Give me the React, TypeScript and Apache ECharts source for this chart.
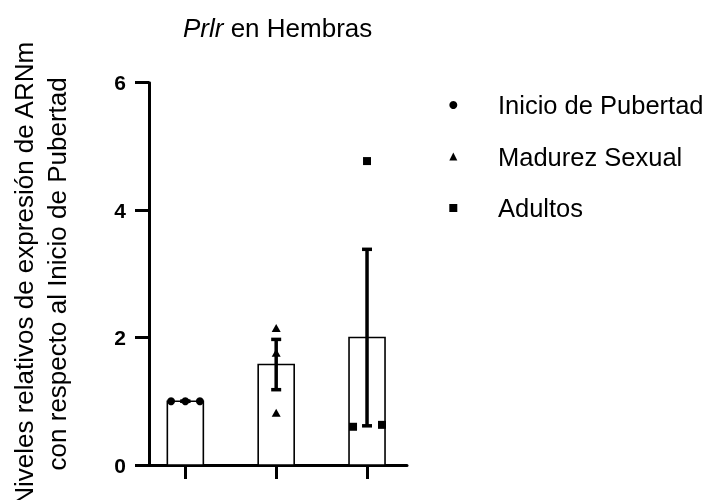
import React, { useEffect, useRef } from "react";
import * as echarts from "echarts";

const categories = ["Inicio de Pubertad", "Madurez Sexual", "Adultos"];
const categoryPositions = [1, 2, 3];
const inicioValues = [1.0, 1.0, 1.0];
const madurezValues = [2.15, 1.76, 0.82];
const adultosValues = [0.6, 4.77, 0.63];
const inicioOffsets = [-0.157, 0, 0.16];
const madurezOffsets = [0, 0, 0];
const adultosOffsets = [-0.154, 0, 0.165];
const yTicks = [0, 2, 4, 6];

const groups = [inicioValues, madurezValues, adultosValues];
const offsets = [inicioOffsets, madurezOffsets, adultosOffsets];

const mean = (a: number[]) => a.reduce((s, v) => s + v, 0) / a.length;
const sem = (a: number[]) => {
  const m = mean(a);
  const sd = Math.sqrt(a.reduce((s, v) => s + (v - m) * (v - m), 0) / (a.length - 1));
  return sd / Math.sqrt(a.length);
};

const FONT = "'Liberation Sans', Arial, Helvetica, sans-serif";

export default function App() {
  const ref = useRef<HTMLDivElement>(null);
  useEffect(() => {
    if (!ref.current) return;
    const chart = echarts.init(ref.current, undefined, { renderer: "svg" });
    const barData = categoryPositions.map((x, i) => [x, mean(groups[i])]);
    const errData = categoryPositions.map((x, i) => {
      const m = mean(groups[i]);
      const s = sem(groups[i]);
      return [x, m - s, m + s];
    });
    const scatterSymbols = ["circle", "triangle", "rect"];
    const scatterSizes: any[] = [8, [9, 8], 8];
    const legendIcons = ["circle", "path://M5,0L10,10L0,10Z", "path://M0,0L10,0L10,10L0,10Z"];
    chart.setOption({
      animation: false,
      title: {
        text: "{i|Prlr} en Hembras",
        left: 183,
        top: 13,
        padding: 0,
        textStyle: {
          fontSize: 26,
          fontWeight: "normal",
          color: "#000",
          fontFamily: FONT,
          lineHeight: 30,
          rich: {
            i: { fontStyle: "italic", fontSize: 26, fontFamily: FONT, color: "#000", lineHeight: 30 },
          },
        },
      },
      legend: {
        orient: "vertical",
        left: 449.3,
        top: 92,
        padding: 0,
        itemWidth: 8,
        itemHeight: 8,
        itemGap: 25.5,
        symbolKeepAspect: true,
        selectedMode: false,
        textStyle: { fontSize: 25.5, color: "#000", fontFamily: FONT, lineHeight: 26, padding: [0, 0, 0, 35.7] },
        data: categories.map((c, i) => ({ name: c, icon: legendIcons[i], itemStyle: { color: "#000", opacity: 1 } })),
      },
      grid: { left: 149, right: 300, top: 82.7, bottom: 35, containLabel: false, outerBoundsMode: "none" },
      xAxis: {
        type: "value",
        min: 0.6,
        max: 3.44,
        axisLine: { show: true, onZero: true, lineStyle: { color: "#000", width: 3 } },
        axisTick: { show: true, length: 14, lineStyle: { color: "#000", width: 3 }, customValues: categoryPositions },
        axisLabel: { show: false },
        splitLine: { show: false },
      },
      yAxis: {
        type: "value",
        min: yTicks[0],
        max: yTicks[yTicks.length - 1],
        interval: 2,
        name: "Niveles relativos de expresión de ARNm\ncon respecto al Inicio de Pubertad",
        nameLocation: "middle",
        nameGap: 75.5,
        nameTextStyle: { fontSize: 26, lineHeight: 33, color: "#000", fontFamily: FONT },
        axisLine: { show: true, lineStyle: { color: "#000", width: 3 } },
        axisTick: { show: true, length: 14, lineStyle: { color: "#000", width: 3 } },
        axisLabel: { show: true, margin: 23, fontSize: 21, fontWeight: "bold", color: "#000", fontFamily: FONT },
        splitLine: { show: false },
      },
      series: [
        {
          type: "custom",
          name: "bars",
          z: 1,
          clip: false,
          data: barData,
          renderItem: (params: any, api: any) => {
            const x = api.value(0);
            const v = api.value(1);
            const top = api.coord([x, v]);
            const base = api.coord([x, 0]);
            return {
              type: "rect",
              shape: { x: top[0] - 18, y: top[1], width: 36, height: base[1] - top[1] },
              style: { fill: "#fff", stroke: "#000", lineWidth: 1.6 },
            };
          },
        },
        {
          type: "custom",
          name: "errors",
          z: 3,
          clip: false,
          data: errData,
          renderItem: (params: any, api: any) => {
            const x = api.value(0);
            const lo = api.coord([x, api.value(1)]);
            const hi = api.coord([x, api.value(2)]);
            const half = 5;
            const style = { stroke: "#000", lineWidth: 3.5 };
            return {
              type: "group",
              children: [
                { type: "line", shape: { x1: lo[0], y1: lo[1], x2: hi[0], y2: hi[1] }, style },
                { type: "line", shape: { x1: hi[0] - half, y1: hi[1], x2: hi[0] + half, y2: hi[1] }, style },
                { type: "line", shape: { x1: lo[0] - half, y1: lo[1], x2: lo[0] + half, y2: lo[1] }, style },
              ],
            };
          },
        },
        ...categories.map((c, i) => ({
          type: "scatter",
          name: c,
          z: 4,
          symbol: scatterSymbols[i],
          symbolSize: scatterSizes[i],
          itemStyle: { color: "#000", opacity: 1 },
          data: groups[i].map((v, j) => [categoryPositions[i] + offsets[i][j], v]),
        })),
      ],
    });
    return () => chart.dispose();
  }, []);
  return <div ref={ref} style={{ position: "fixed", left: 0, top: 0, width: 707, height: 500 }} />;
}
